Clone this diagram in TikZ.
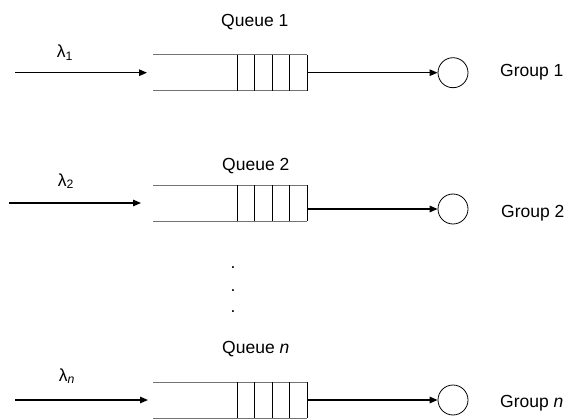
\documentclass[tikz,border=0pt]{standalone}
\usepackage{fontspec}
\setmainfont{Liberation Sans}
\usetikzlibrary{arrows.meta}

\tikzset{
  flow/.style={line width=1.3pt,-{Triangle[length=8pt,width=6.5pt]}},
  buffer/.style={line width=0.9pt,draw=black!55},
  cell/.style={line width=0.9pt},
  server/.style={circle,draw,line width=0.8pt,minimum size=30pt,inner sep=0pt},
  lbl/.style={font=\fontsize{17.5}{20}\selectfont,inner sep=0pt},
}

\begin{document}
\begin{tikzpicture}[x=1pt,y=-1pt]
          \useasboundingbox (0,0) rectangle (571,420);

          % queue 1
          \begin{scope}[shift={(0,72.7)}]
            \coordinate (in1) at (15,0);
            \coordinate (q1w) at (147,0);
            \coordinate (q1e) at (307,0);
            \draw[buffer] (153,-18) -- (307,-18) (153,18) -- (307,18);
            \foreach \x in {237,254.5,272,289.5,307} \draw[cell] (\x,-18) -- (\x,18);
            \node[server] (s1) at (453,0) {};
            \draw[flow] (in1) -- (q1w);
            \draw[flow] (q1e) -- (s1);
            \node[lbl] (lam1) at (65,-20) {λ\textsubscript{1}};
            \node[lbl,anchor=base west] (t1) at (221,-45.7) {Queue 1};
            \node[lbl,anchor=base west] (g1) at (500,4.3) {Group 1};
          \end{scope}

          % queue 2
          \begin{scope}[shift={(0,203)}]
            \coordinate (in2) at (9,0);
            \coordinate (q2w) at (141,0);
            \coordinate (q2e) at (307,6);
            \draw[buffer] (153,-18) -- (307,-18) (153,18) -- (307,18);
            \foreach \x in {237,254.5,272,289.5,307} \draw[cell] (\x,-18) -- (\x,18);
            \node[server] (s2) at (453,6) {};
            \draw[flow] (in2) -- (q2w);
            \draw[flow] (q2e) -- (s2);
            \node[lbl] (lam2) at (66,-22) {λ\textsubscript{2}};
            \node[lbl,anchor=base west] (t2) at (222,-32) {Queue 2};
            \node[lbl,anchor=base west] (g2) at (501,14) {Group 2};
          \end{scope}

          % dots
          \foreach \y/\k in {268/a,291/b,312/c} \node[lbl] (dot\k) at (233,\y) {.};

          % queue n
          \begin{scope}[shift={(0,400)}]
            \coordinate (inn) at (15,0);
            \coordinate (qnw) at (148,0);
            \coordinate (qne) at (307,0);
            \draw[buffer] (153,-18) -- (307,-18) (153,18) -- (307,18);
            \foreach \x in {237,254.5,272,289.5,307} \draw[cell] (\x,-18) -- (\x,18);
            \node[server] (sn) at (453,0) {};
            \draw[flow] (inn) -- (qnw);
            \draw[flow] (qne) -- (sn);
            \node[lbl] (lamn) at (67,-24) {λ\textsubscript{\textit{n}}};
            \node[lbl,anchor=base west] (tn) at (222,-47) {Queue \textit{n}};
            \node[lbl,anchor=base west] (gn) at (500,7) {Group \textit{n}};
          \end{scope}

        \end{tikzpicture}
\end{document}
